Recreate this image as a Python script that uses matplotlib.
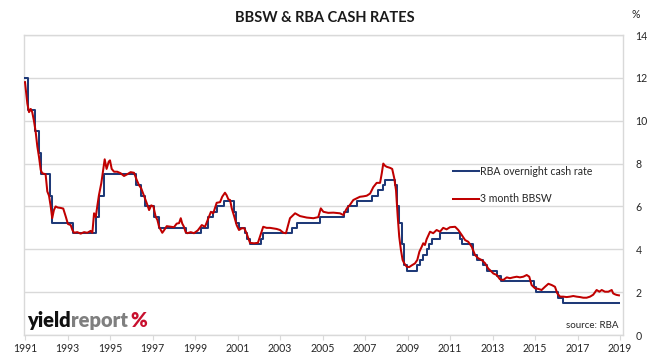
import matplotlib
matplotlib.use("Agg")
import matplotlib.pyplot as plt
from matplotlib.ticker import FixedLocator

plt.rcParams['font.family'] = ['Lato', 'DejaVu Sans']

# RBA overnight cash rate: change dates (decimal year) and new level
cash_dates = [1991.00, 1991.14, 1991.46, 1991.66, 1991.77, 1992.16, 1992.25, 1993.27,
              1994.33, 1994.47, 1994.71, 1996.21, 1996.44, 1996.66, 1997.07, 1997.31,
              1998.56, 1999.30, 1999.60, 1999.87, 2000.05, 2000.38, 2000.85, 2000.95,
              2001.06, 2001.35, 2001.45, 2001.57, 2002.11, 2002.18, 2003.58, 2003.78,
              2004.90, 2006.00, 2006.20, 2006.60, 2007.31, 2007.63, 2007.86, 2007.94,
              2008.41, 2008.52, 2008.62, 2008.72, 2008.82, 2008.96, 2009.46, 2009.60,
              2009.74, 2009.92, 2010.02, 2010.14, 2010.53, 2011.47, 2011.56, 2012.10,
              2012.25, 2012.57, 2012.73, 2013.20, 2013.38, 2014.95, 2015.05, 2016.07,
              2016.33, 2018.95]
cash_rate = [12.0, 10.5, 9.5, 8.5, 7.5, 6.5, 5.25, 4.75,
             5.5, 6.5, 7.5, 7.0, 6.5, 6.0, 5.5, 5.0,
             4.75, 5.0, 5.5, 5.75, 6.0, 6.25, 5.75, 5.25,
             5.0, 4.75, 4.5, 4.25, 4.5, 4.75, 5.0, 5.25,
             5.5, 5.75, 6.0, 6.25, 6.5, 6.75, 7.0, 7.25,
             7.0, 6.0, 5.25, 4.25, 3.25, 3.0, 3.25, 3.5,
             3.75, 4.0, 4.25, 4.5, 4.75, 4.5, 4.25, 3.75,
             3.5, 3.25, 3.0, 2.75, 2.5, 2.25, 2.0, 1.75,
             1.5, 1.5]

# 3 month BBSW
bbsw_dates = [1991.00, 1991.11, 1991.19, 1991.27, 1991.34, 1991.42, 1991.50, 1991.58,
              1991.66, 1991.74, 1991.81, 1991.97, 1992.05, 1992.13, 1992.21, 1992.28,
              1992.36, 1992.44, 1992.54, 1992.68, 1992.80, 1992.92, 1993.02, 1993.15,
              1993.23, 1993.31, 1993.46, 1993.62, 1993.78, 1993.93, 1994.09, 1994.17,
              1994.25, 1994.33, 1994.40, 1994.48, 1994.59, 1994.68, 1994.75, 1994.84,
              1994.94, 1995.00, 1995.08, 1995.19, 1995.34, 1995.50, 1995.66, 1995.81,
              1995.97, 1996.13, 1996.26, 1996.36, 1996.47, 1996.60, 1996.73, 1996.84,
              1996.94, 1997.04, 1997.15, 1997.23, 1997.31, 1997.39, 1997.46, 1997.54,
              1997.67, 1997.86, 1998.01, 1998.14, 1998.25, 1998.33, 1998.40, 1998.48,
              1998.56, 1998.64, 1998.80, 1998.95, 1999.13, 1999.32, 1999.47, 1999.63,
              1999.75, 1999.86, 2000.02, 2000.18, 2000.28, 2000.41, 2000.49, 2000.57,
              2000.65, 2000.73, 2000.85, 2000.96, 2001.07, 2001.20, 2001.32, 2001.43,
              2001.51, 2001.59, 2001.78, 2001.96, 2002.06, 2002.21, 2002.37, 2002.53,
              2002.84, 2003.00, 2003.16, 2003.28, 2003.47, 2003.71, 2003.94, 2004.26,
              2004.57, 2004.80, 2004.92, 2005.04, 2005.27, 2005.51, 2005.82, 2005.98,
              2006.14, 2006.29, 2006.45, 2006.61, 2006.76, 2006.92, 2007.08, 2007.24,
              2007.39, 2007.55, 2007.71, 2007.79, 2007.86, 2007.94, 2008.02, 2008.18,
              2008.28, 2008.38, 2008.46, 2008.54, 2008.61, 2008.69, 2008.77, 2008.85,
              2008.96, 2009.08, 2009.20, 2009.35, 2009.46, 2009.56, 2009.67, 2009.74,
              2009.82, 2009.90, 2010.06, 2010.21, 2010.37, 2010.53, 2010.68, 2010.84,
              2011.00, 2011.24, 2011.39, 2011.55, 2011.71, 2011.86, 2012.02, 2012.18,
              2012.33, 2012.49, 2012.65, 2012.80, 2012.88, 2013.04, 2013.20, 2013.35,
              2013.51, 2013.67, 2013.82, 2013.98, 2014.14, 2014.29, 2014.45, 2014.61,
              2014.73, 2014.84, 2015.00, 2015.16, 2015.31, 2015.47, 2015.63, 2015.79,
              2015.94, 2016.05, 2016.18, 2016.33, 2016.49, 2016.65, 2016.80, 2016.96,
              2017.12, 2017.27, 2017.43, 2017.59, 2017.74, 2017.90, 2018.03, 2018.14,
              2018.29, 2018.45, 2018.61, 2018.68, 2018.76, 2018.84, 2018.95]
bbsw_rate = [11.8, 10.8, 10.4, 10.55, 10.4, 10.0, 9.5, 8.8,
             8.3, 7.7, 7.55, 7.5, 6.7, 6.5, 6.0, 5.45,
             5.83, 6.0, 5.95, 5.93, 5.9, 5.52, 5.18, 5.13,
             4.9, 4.77, 4.8, 4.73, 4.8, 4.77, 4.86, 4.77,
             5.68, 5.5, 6.0, 6.53, 7.08, 7.7, 8.2, 7.75,
             8.09, 8.15, 7.75, 7.62, 7.62, 7.55, 7.42, 7.5,
             7.6, 7.57, 7.23, 7.0, 6.84, 6.5, 6.15, 5.83,
             6.05, 6.0, 5.52, 5.37, 5.05, 4.9, 4.77, 4.88,
             5.08, 5.05, 5.03, 5.2, 5.22, 5.45, 5.2, 5.05,
             4.8, 4.75, 4.8, 4.75, 4.88, 5.13, 5.05, 5.45,
             5.75, 5.68, 6.17, 6.2, 6.45, 6.64, 6.52, 6.33,
             6.3, 5.91, 5.52, 5.13, 4.9, 4.98, 4.98, 4.74,
             4.51, 4.3, 4.28, 4.3, 4.6, 5.05, 5.0, 5.0,
             4.95, 4.9, 4.77, 4.75, 5.45, 5.68, 5.55, 5.48,
             5.45, 5.5, 5.91, 5.75, 5.7, 5.71, 5.68, 5.6,
             5.9, 6.07, 6.3, 6.38, 6.45, 6.47, 6.5, 6.6,
             6.9, 7.1, 7.1, 7.55, 8.0, 7.9, 7.85, 7.8,
             7.75, 7.3, 6.75, 5.52, 4.59, 3.97, 3.5, 3.34,
             3.19, 3.17, 3.25, 3.34, 3.5, 3.89, 4.12, 4.28,
             4.2, 4.47, 4.82, 4.75, 4.9, 4.82, 5.0, 4.93,
             5.03, 5.05, 4.9, 4.67, 4.43, 4.35, 4.12, 3.73,
             3.58, 3.5, 3.35, 3.1, 3.03, 2.87, 2.8, 2.6,
             2.57, 2.69, 2.65, 2.69, 2.72, 2.69, 2.72, 2.8,
             2.72, 2.33, 2.18, 2.15, 2.1, 2.25, 2.39, 2.33,
             2.25, 1.94, 1.79, 1.79, 1.77, 1.79, 1.82, 1.79,
             1.77, 1.74, 1.74, 1.79, 1.88, 2.1, 2.02, 2.1,
             2.02, 2.02, 2.1, 1.94, 1.9, 1.87, 1.85]

year_ticks = list(range(1991, 2020, 2))
y_ticks = [0, 2, 4, 6, 8, 10, 12, 14]

W, H = 652, 357
fig = plt.figure(figsize=(W / 100, H / 100), dpi=100)
ax = fig.add_axes([24 / W, 1 - 335 / H, (623 - 24) / W, (335 - 35) / H])

blue = '#1F3A78'
red = '#C00000'
grid_c = '#D9D9D9'

ax.plot(cash_dates, cash_rate, drawstyle='steps-post', color=blue, lw=1.45,
        label='RBA overnight cash rate', zorder=3)
ax.plot(bbsw_dates, bbsw_rate, color=red, lw=1.45, label='3 month BBSW', zorder=4)

ax.set_xlim(1991 - 1 / 21.25, 1991 + 598 / 21.25)
ax.set_ylim(0, 14)
ax.xaxis.set_major_locator(FixedLocator(year_ticks))
ax.set_xticklabels([str(y) for y in year_ticks])
ax.yaxis.set_major_locator(FixedLocator(y_ticks))
ax.set_yticklabels([str(v) for v in y_ticks])
ax.yaxis.tick_right()
ax.grid(axis='y', color=grid_c, lw=1.0, zorder=0)
for s in ax.spines.values():
    s.set_color(grid_c)
    s.set_linewidth(1.0)
ax.tick_params(axis='x', length=3.5, width=0.8, color=grid_c, labelsize=7.6,
               labelcolor='#262626', pad=2.5)
ax.tick_params(axis='y', length=0, labelsize=7.6, labelcolor='#262626', pad=9)

leg = ax.legend(loc='upper left', bbox_to_anchor=(453 / W, 1 - 166 / H),
                bbox_transform=fig.transFigure, frameon=False, fontsize=7.6,
                handlelength=2.45, handletextpad=0.15, labelspacing=1.55,
                borderpad=0, borderaxespad=0)
for t in leg.get_texts():
    t.set_color('#262626')

fig.text(325 / W, 1 - 18 / H, 'BBSW & RBA CASH RATES', ha='center', va='center',
         fontsize=10.5, fontweight='bold', color='#1a1a1a')
fig.text(636 / W, 1 - 14 / H, '%', ha='center', va='center', fontsize=7.6,
         color='#262626')
ax.text(618 / W, 1 - 325 / H, 'source: RBA', transform=fig.transFigure,
        ha='right', va='center', fontsize=7, color='#262626')

# logo
t1 = fig.text(27 / W, 1 - 327 / H, 'yield', ha='left', va='baseline', fontsize=14.5,
              fontweight='heavy', color='#111111')
fig.canvas.draw()
bb = t1.get_window_extent()
t2 = fig.text(bb.x1 / W, 1 - 327 / H, 'report', ha='left', va='baseline',
              fontsize=14.5, fontweight='heavy', color='#7F7F7F')
fig.canvas.draw()
bb2 = t2.get_window_extent()
fig.text(bb2.x1 / W + 3 / W, 1 - 327 / H, '%', ha='left', va='baseline',
         fontsize=14.5, fontweight='heavy', color='#C8102E')

fig.savefig('out.png', dpi=100)
